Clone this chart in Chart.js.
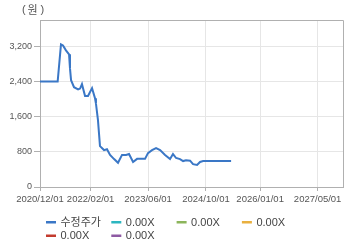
<!DOCTYPE html>
<html>
<head>
<meta charset="utf-8">
<script src="https://cdn.jsdelivr.net/npm/chart.js@4"></script>
<style>
  html, body { margin: 0; padding: 0; background: #fff; }
  #wrap { width: 360px; height: 248px; }
</style>
</head>
<body>
<div id="wrap"><canvas id="priceChart" width="360" height="248"></canvas></div>
<script>
// Data
const dates = [
    '2020-12-01', '2021-04-29', '2021-05-27', '2021-06-13', '2021-07-08', '2021-08-03',
    '2021-08-11', '2021-08-20', '2021-09-14', '2021-10-18', '2021-11-04', '2021-11-20',
    '2021-12-16', '2022-01-10', '2022-02-13', '2022-03-10', '2022-03-18', '2022-04-04',
    '2022-04-21', '2022-05-25', '2022-06-19', '2022-07-15', '2022-08-18',
    '2022-09-20', '2022-10-24', '2022-11-27', '2022-12-22', '2023-01-25', '2023-02-28',
    '2023-05-06', '2023-05-31', '2023-07-04', '2023-08-07', '2023-09-10', '2023-10-22',
    '2023-12-03', '2023-12-28', '2024-01-23', '2024-02-25', '2024-03-22', '2024-04-16',
    '2024-05-20', '2024-06-14', '2024-07-18', '2024-08-12', '2024-09-07', '2025-05-01'
];
const prices = [
    2400, 2400, 3245, 3220, 3110, 3020,
    2700, 2430, 2270, 2220, 2240, 2340,
    2070, 2070, 2250, 2020, 1900, 1520,
    930, 840, 860, 730, 635,
    550, 730, 730, 750, 570, 640,
    640, 770, 840, 885, 840, 730,
    635, 750, 660, 635, 590, 610,
    600, 520, 500, 570, 590, 590
];
const xTickDates = ['2020-12-01', '2022-02-01', '2023-06-01', '2024-10-01', '2026-01-01', '2027-05-01'];
const yTicks = [0, 800, 1600, 2400, 3200];
const legendLabels = ['수정주가', '0.00X', '0.00X', '0.00X', '0.00X', '0.00X'];
const legendColors = ['#3a77c6', '#2cb6c0', '#8cb55b', '#e9b03f', '#c33b2e', '#8e5aa3'];

const FONT = "'Liberation Sans', 'Noto Sans CJK KR', sans-serif";

function toTime(s) {
    const p = s.split('-').map(Number);
    return Date.UTC(p[0], p[1] - 1, p[2]);
}
function fmtDate(t) {
    const d = new Date(t);
    const mm = String(d.getUTCMonth() + 1).padStart(2, '0');
    const dd = String(d.getUTCDate()).padStart(2, '0');
    return d.getUTCFullYear() + '/' + mm + '/' + dd;
}

const datasets = legendLabels.map((label, i) => ({
    label: label,
    data: i === 0 ? dates.map((d, j) => ({ x: toTime(d), y: prices[j] })) : [],
    borderColor: legendColors[i],
    backgroundColor: legendColors[i],
    borderWidth: 2,
    pointRadius: 0,
    tension: 0,
    fill: false
}));

// Frame, unit label and legend
const extrasPlugin = {
    id: 'extras',
    afterDraw(chart) {
        const ctx = chart.ctx;
        const a = chart.chartArea;
        ctx.save();
        ctx.strokeStyle = '#b0b0b0';
        ctx.lineWidth = 1;
        ctx.beginPath();
        ctx.moveTo(a.left, a.top + 0.5);
        ctx.lineTo(a.right + 0.5, a.top + 0.5);
        ctx.lineTo(a.right + 0.5, a.bottom);
        ctx.stroke();

        // unit label "(원)"
        ctx.fillStyle = '#555';
        ctx.font = '11px ' + FONT;
        ctx.textBaseline = 'middle';
        ctx.textAlign = 'left';
        ctx.fillText('(', 22, 10);
        ctx.fillText('원', 27.5, 10.5);
        ctx.fillText(')', 40.5, 10);

        ctx.font = '11px ' + FONT;
        chart.data.datasets.forEach((ds, i) => {
            const col = i % 4, row = Math.floor(i / 4);
            const x = 46 + col * 65.3;
            const y = 222 + row * 13.5;
            ctx.fillStyle = ds.borderColor;
            ctx.fillRect(x, y - 1, 10, 2.5);
            ctx.fillStyle = '#444';
            ctx.fillText(ds.label, x + 14.5, y + 0.5);
        });
        ctx.restore();
    }
};

const config = {
    type: 'line',
    data: { datasets: datasets },
    options: {
        responsive: false,
        animation: false,
        layout: { padding: { top: 20, right: 17, left: 0, bottom: 0 } },
        plugins: {
            legend: { display: false },
            tooltip: { enabled: false }
        },
        scales: {
            x: {
                type: 'linear',
                min: toTime('2020-12-01'),
                max: toTime('2027-12-01'),
                afterBuildTicks: (scale) => {
                    scale.ticks = xTickDates.map(d => ({ value: toTime(d) }));
                },
                afterFit: (scale) => { scale.height = 61; },
                ticks: {
                    autoSkip: false,
                    maxRotation: 0,
                    padding: 3,
                    color: '#555',
                    font: { size: 9.5, family: FONT },
                    callback: (v) => fmtDate(v)
                },
                grid: { color: '#e6e6e6', tickColor: '#b0b0b0', tickLength: 4 },
                border: { color: '#b0b0b0' }
            },
            y: {
                min: 0,
                max: 3800,
                afterBuildTicks: (scale) => {
                    scale.ticks = yTicks.map(v => ({ value: v }));
                },
                afterFit: (scale) => { scale.width = 40; },
                ticks: {
                    padding: 2,
                    color: '#555',
                    font: { size: 9, family: FONT },
                    callback: (v) => v.toLocaleString('en-US')
                },
                grid: { color: '#e6e6e6', tickColor: '#b0b0b0', tickLength: 6 },
                border: { color: '#b0b0b0' }
            }
        }
    },
    plugins: [extrasPlugin]
};

const priceChart = new Chart(document.getElementById('priceChart'), config);
</script>
</body>
</html>
